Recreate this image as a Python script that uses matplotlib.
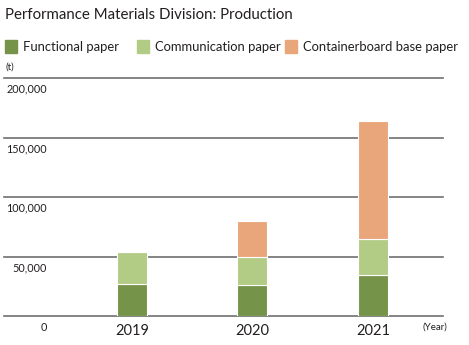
import matplotlib.pyplot as plt
from matplotlib.patches import Rectangle

years = ["2019", "2020", "2021"]
functional = [26600, 25800, 34200]
communication = [27200, 23500, 30200]
containerboard = [0, 30500, 99500]
y_ticks = [0, 50000, 100000, 150000, 200000]

series = [
    ("Functional paper", functional, "#76934a"),
    ("Communication paper", communication, "#b2cc86"),
    ("Containerboard base paper", containerboard, "#e9a67b"),
]
txt = "#231f20"
plt.rcParams["font.family"] = ["Lato", "DejaVu Sans"]

fig = plt.figure(figsize=(4.69, 3.45), dpi=100)
ax = fig.add_axes([4 / 469, 29 / 345, 439 / 469, 238 / 345])
ax.set_xlim(-1.062, 2.581)
ax.set_ylim(0, 200000)
ax.axis("off")

# horizontal rules with labels hanging below each line
for v in y_ticks:
    ax.axhline(v, color="#6f6f6f", lw=1.2, zorder=1, clip_on=False)
    ax.annotate(f"{v:,}", (0, v), xycoords=("axes fraction", "data"),
                xytext=(31, -8), textcoords="offset points",
                ha="right", va="center", fontsize=7.8, color=txt)

x = list(range(len(years)))
bottom = [0] * len(years)
for name, vals, col in series:
    ax.bar(x, vals, width=0.249, bottom=bottom, color=col,
           edgecolor="white", linewidth=0.8, zorder=2)
    bottom = [b + v for b, v in zip(bottom, vals)]

for xi, yr in zip(x, years):
    ax.annotate(yr, (xi, 0), xytext=(0, -10.5), textcoords="offset points",
                ha="center", va="center", fontsize=10.5, color=txt)
ax.annotate("(Year)", (1, 0), xycoords="axes fraction", xytext=(3, -8),
            textcoords="offset points", ha="right", va="center",
            fontsize=7, color=txt)

fig.text(5 / 469, 1 - 15 / 345, "Performance Materials Division: Production",
         fontsize=10.8, color=txt, va="center", ha="left")
fig.text(5 / 469, 1 - 67 / 345, "(t)", fontsize=7, color=txt,
         va="center", ha="left")

# legend row: coloured squares followed by labels
legend_x = [5, 137, 285]
for (name, vals, col), lx in zip(series, legend_x):
    fig.patches.append(Rectangle((lx / 469, 1 - 53 / 345), 12 / 469, 13 / 345,
                                 transform=fig.transFigure, color=col))
    fig.text((lx + 18) / 469, 1 - 47 / 345, name, fontsize=9.4, color=txt,
             va="center", ha="left")

fig.savefig("out.png", dpi=100)
